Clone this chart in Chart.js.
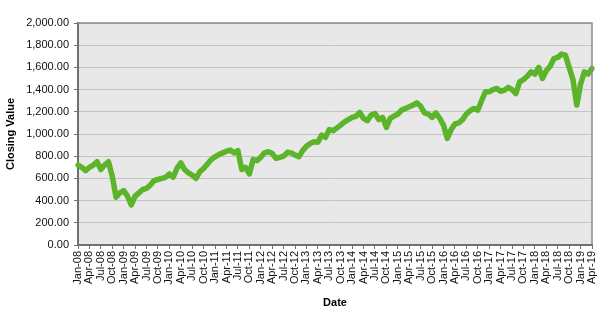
<!DOCTYPE html>
<html>
<head>
<meta charset="utf-8">
<script src="https://cdn.jsdelivr.net/npm/chart.js@4.4.1/dist/chart.umd.min.js"></script>
<style>
  html, body { margin: 0; padding: 0; background: #fff; }
  #wrap { width: 610px; height: 314px; }
</style>
</head>
<body>
<div id="wrap"><canvas id="chart" width="610" height="314"></canvas></div>
<script>
// monthly labels Jan-08 .. Apr-19
const months = ['Jan', 'Feb', 'Mar', 'Apr', 'May', 'Jun', 'Jul', 'Aug', 'Sep', 'Oct', 'Nov', 'Dec'];
const dateLabels = [];
for (let y = 8; y <= 19; y++) {
    for (let m = 0; m < 12; m++) {
        if (y === 19 && m > 3) break;
        dateLabels.push(months[m] + '-' + String(y).padStart(2, '0'));
    }
}

// closing values, one per month
const closing2008 = [720, 700, 670, 700, 720, 750, 680, 720, 750, 620, 430, 470];
const closing2009 = [490, 440, 360, 440, 470, 500, 510, 540, 580, 590, 600, 610];
const closing2010 = [640, 610, 690, 740, 680, 650, 630, 600, 660, 690, 730, 770];
const closing2011 = [795, 815, 830, 845, 855, 830, 850, 680, 700, 640, 770, 760];
const closing2012 = [790, 830, 840, 825, 780, 790, 800, 835, 830, 810, 795, 850];
const closing2013 = [890, 915, 930, 925, 990, 970, 1040, 1030, 1055, 1080, 1110, 1130];
const closing2014 = [1150, 1160, 1195, 1140, 1120, 1170, 1185, 1130, 1150, 1060, 1140, 1160];
const closing2015 = [1180, 1215, 1230, 1245, 1260, 1280, 1250, 1190, 1180, 1150, 1190, 1140];
const closing2016 = [1080, 960, 1040, 1090, 1100, 1130, 1180, 1210, 1230, 1215, 1300, 1380];
const closing2017 = [1380, 1400, 1410, 1385, 1395, 1420, 1400, 1365, 1470, 1490, 1520, 1560];
const closing2018 = [1540, 1600, 1500, 1570, 1610, 1680, 1690, 1720, 1710, 1600, 1490, 1260];
const closing2019 = [1450, 1560, 1540, 1590];

const closingValues = [].concat(closing2008, closing2009, closing2010, closing2011,
    closing2012, closing2013, closing2014, closing2015, closing2016, closing2017,
    closing2018, closing2019);

const yTicks = { min: 0, max: 2000, step: 200 };

// grey plot background plus top/right frame
const plotFrame = {
    id: 'plotFrame',
    beforeDraw(chart) {
        const { ctx, chartArea: a } = chart;
        ctx.save();
        ctx.fillStyle = '#e8e8e8';
        ctx.fillRect(a.left, a.top, a.right - a.left, a.bottom - a.top);
        ctx.restore();
    },
    afterDraw(chart) {
        const { ctx, chartArea: a } = chart;
        ctx.save();
        ctx.strokeStyle = '#8c8c8c';
        ctx.lineWidth = 1.5;
        ctx.beginPath();
        ctx.moveTo(a.left, a.top);
        ctx.lineTo(a.right, a.top);
        ctx.lineTo(a.right, a.bottom);
        ctx.stroke();
        ctx.restore();
    }
};

const fontFamily = '"Liberation Sans", Arial, sans-serif';

new Chart(document.getElementById('chart'), {
    type: 'line',
    data: {
        labels: dateLabels,
        datasets: [{
            data: closingValues,
            borderColor: '#5cb42a',
            borderWidth: 5.5,
            borderJoinStyle: 'round',
            borderCapStyle: 'round',
            pointRadius: 0,
            tension: 0,
            fill: false
        }]
    },
    options: {
        responsive: false,
        animation: false,
        layout: { padding: { top: 23, right: 18, left: 4, bottom: 4 } },
        plugins: {
            legend: { display: false },
            tooltip: { enabled: false }
        },
        scales: {
            x: {
                offset: false,
                afterFit(scale) { scale.height = 65; },
                grid: {
                    drawOnChartArea: false,
                    drawTicks: true,
                    tickLength: 4,
                    color: '#707070'
                },
                border: { display: true, color: '#707070', width: 2 },
                ticks: {
                    autoSkip: false,
                    maxRotation: 90,
                    minRotation: 90,
                    padding: 2,
                    color: '#111',
                    font: { family: fontFamily, size: 11 },
                    callback(value, index) {
                        return index % 3 === 0 ? dateLabels[index] : null;
                    }
                },
                title: {
                    display: true,
                    text: 'Date',
                    color: '#000',
                    padding: { top: 4, bottom: 0 },
                    font: { family: fontFamily, size: 11, weight: 'bold' }
                }
            },
            y: {
                min: yTicks.min,
                max: yTicks.max,
                afterFit(scale) { scale.width = 74; },
                grid: {
                    color: '#c4c4c4',
                    lineWidth: 1,
                    drawTicks: true,
                    tickLength: 4,
                    tickColor: '#707070'
                },
                border: { display: true, color: '#707070', width: 2 },
                ticks: {
                    stepSize: yTicks.step,
                    padding: 5,
                    color: '#111',
                    font: { family: fontFamily, size: 11 },
                    callback(value) {
                        return value.toLocaleString('en-US', { minimumFractionDigits: 2, maximumFractionDigits: 2 });
                    }
                },
                title: {
                    display: true,
                    text: 'Closing Value',
                    color: '#000',
                    padding: { top: 0, bottom: 4 },
                    font: { family: fontFamily, size: 11, weight: 'bold' }
                }
            }
        }
    },
    plugins: [plotFrame]
});
</script>
</body>
</html>
